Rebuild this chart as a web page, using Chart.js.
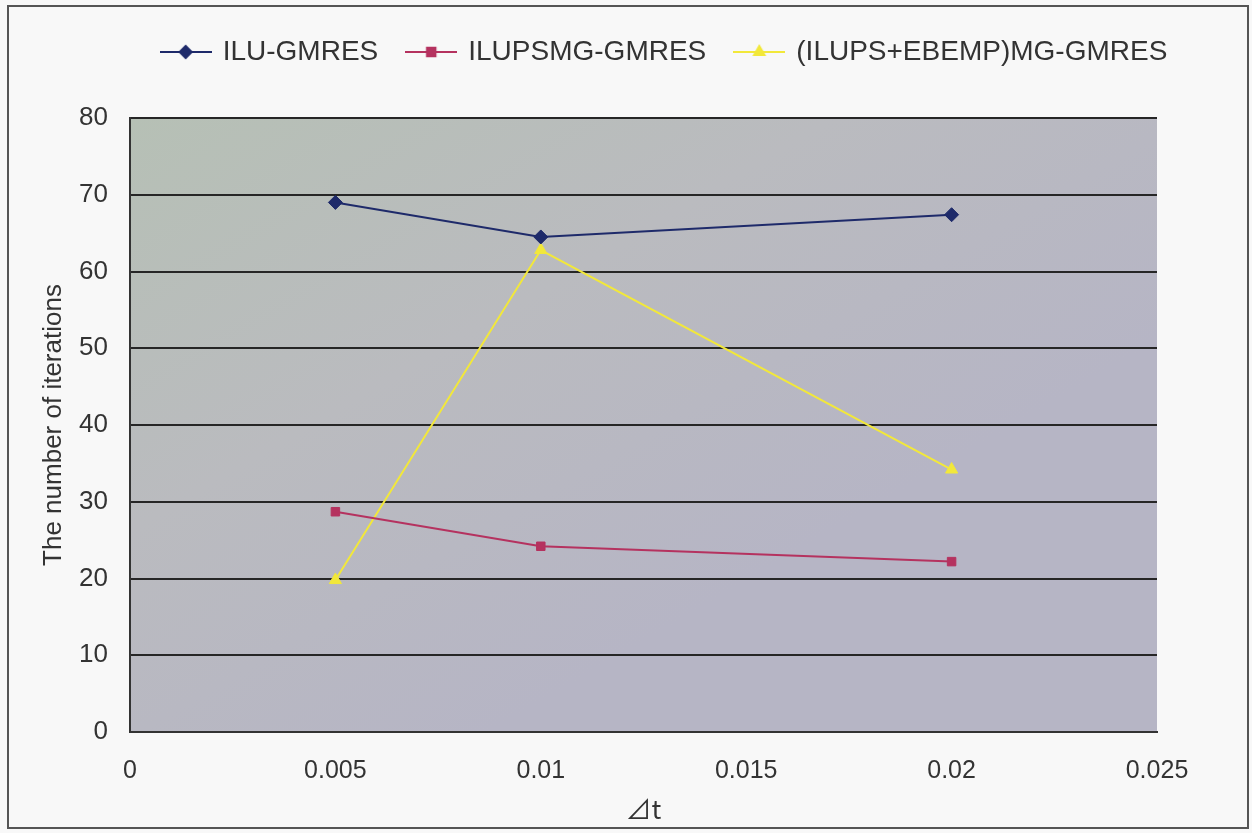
<!DOCTYPE html>
<html>
<head>
<meta charset="utf-8">
<script src="https://cdn.jsdelivr.net/npm/chart.js@4.4.0/dist/chart.umd.min.js"></script>
<style>
  html, body { margin: 0; padding: 0; background: #f8f8f8; }
  #wrap { width: 1252px; height: 833px; }
</style>
</head>
<body>
<div id="wrap"><canvas id="iter_chart"></canvas></div>
<script>
// values
const dt_values = [0.005, 0.01, 0.02]
const ilu_gmres = [69, 64.5, 67.4]
const ilupsmg_gmres = [28.7, 24.2, 22.2]
const ilups_ebemp_gmres = [19.8, 62.8, 34.2]
const series_labels = ['ILU-GMRES', 'ILUPSMG-GMRES', '(ILUPS+EBEMP)MG-GMRES']

const font_name = "'Liberation Sans', Arial, sans-serif"

const to_points = (ys) => dt_values.map((x, i) => ({ x: x, y: ys[i] }))

// small legend picture: line with the marker in the middle
const legend_icon = (color, style) => {
    const c = document.createElement('canvas')
    c.width = 52
    c.height = 20
    const ctx = c.getContext('2d')
    ctx.strokeStyle = color
    ctx.lineWidth = 2
    ctx.beginPath()
    ctx.moveTo(0, 10)
    ctx.lineTo(52, 10)
    ctx.stroke()
    Chart.helpers.drawPoint(ctx, {
        pointStyle: style, radius: 6, rotation: 0, borderWidth: 1
    }, 26, 10)
    ctx.fillStyle = color
    ctx.fill()
    return c
}

const frame_plugin = {
    id: 'frame_plugin',
    beforeInit(chart) {
        const orig_fit = chart.legend.fit
        chart.legend.fit = function () {
            orig_fit.call(this)
            this.height = 110
        }
    },
    afterLayout(chart) {
        // legend in the original sits a bit right of centre
        chart.legend.left = 89
        chart.legend.right = 1241
    },
    beforeDraw(chart) {
        const { ctx, chartArea } = chart
        ctx.save()
        ctx.fillStyle = '#f8f8f8'
        ctx.fillRect(0, 0, chart.width, chart.height)
        ctx.strokeStyle = '#555'
        ctx.lineWidth = 2
        ctx.strokeRect(8, 6, 1240, 822)
        const w = chartArea.right - chartArea.left
        const g = ctx.createLinearGradient(chartArea.left, chartArea.top, chartArea.left + w * 0.35, chartArea.bottom)
        g.addColorStop(0, '#b6c0b5')
        g.addColorStop(0.5, '#babbbf')
        g.addColorStop(1, '#b6b5c5')
        ctx.fillStyle = g
        ctx.fillRect(chartArea.left, chartArea.top, w, chartArea.bottom - chartArea.top)
        ctx.restore()
    }
}

const colors = ['#1e2a6a', '#b5325f', '#f2e83a']
const styles = ['rectRot', 'rect', 'triangle']
const all_series = [ilu_gmres, ilupsmg_gmres, ilups_ebemp_gmres]

const datasets = all_series.map((ys, i) => ({
    label: series_labels[i],
    data: to_points(ys),
    borderColor: colors[i],
    backgroundColor: colors[i],
    borderWidth: 2,
    pointStyle: styles[i],
    pointRadius: i === 1 ? 6 : 7,
    pointBorderWidth: 1,
    tension: 0,
}))

const config = {
    type: 'line',
    data: { datasets: datasets },
    options: {
        responsive: true,
        maintainAspectRatio: false,
        animation: false,
        layout: { padding: { top: 8, right: 95, bottom: 0, left: 0 } },
        plugins: {
            legend: {
                position: 'top',
                labels: {
                    usePointStyle: true,
                    pointStyleWidth: 46,
                    padding: 30,
                    color: '#333',
                    font: { family: font_name, size: 28 },
                    generateLabels: (chart) => chart.data.datasets.map((ds, i) => ({
                        text: ds.label,
                        fillStyle: ds.borderColor,
                        strokeStyle: ds.borderColor,
                        pointStyle: legend_icon(ds.borderColor, styles[i]),
                        datasetIndex: i,
                        fontColor: '#333',
                        lineWidth: 0,
                        hidden: false
                    }))
                }
            },
            tooltip: { enabled: false }
        },
        scales: {
            x: {
                type: 'linear',
                min: 0,
                max: 0.025,
                afterFit: (scale) => { scale.height = 101 },
                ticks: {
                    stepSize: 0.005,
                    padding: 24,
                    color: '#333',
                    font: { family: font_name, size: 25 },
                    callback: (v) => String(Math.round(v * 1000) / 1000)
                },
                grid: { drawOnChartArea: false, drawTicks: false },
                border: { color: '#333', width: 2 },
                title: {
                    display: true,
                    text: '⊿t',
                    color: '#333',
                    font: { family: "'Noto Sans CJK JP', 'Liberation Sans', sans-serif", size: 26 },
                    padding: { top: 0, bottom: 8 }
                }
            },
            y: {
                min: 0,
                max: 80,
                afterFit: (scale) => { scale.width = 130 },
                ticks: {
                    stepSize: 10,
                    padding: 22,
                    color: '#333',
                    font: { family: font_name, size: 26 }
                },
                grid: { color: '#262626', lineWidth: 2, drawTicks: false },
                border: { color: '#333', width: 2 },
                title: {
                    display: true,
                    text: 'The number of iterations',
                    color: '#333',
                    font: { family: font_name, size: 26 },
                    padding: { top: 38, bottom: 0 }
                }
            }
        }
    },
    plugins: [frame_plugin]
}

new Chart(document.getElementById('iter_chart'), config)
</script>
</body>
</html>
